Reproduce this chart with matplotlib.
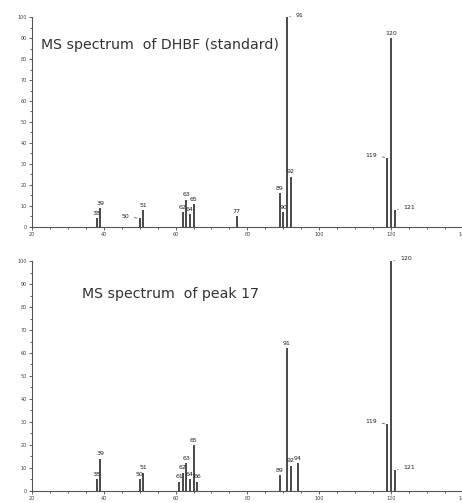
import matplotlib
matplotlib.use("Agg")
from matplotlib import pyplot as plt
from matplotlib.ticker import MultipleLocator

# MS spectrum of DHBF (standard)
std_mz = [38, 39, 50, 51, 62, 63, 64, 65, 77, 89, 90, 91, 92, 119, 120, 121]
std_int = [4, 9, 4, 8, 7, 13, 6, 11, 5, 16, 7, 100, 24, 33, 90, 8]

# MS spectrum of peak 17
p17_mz = [38, 39, 50, 51, 61, 62, 63, 64, 65, 66, 89, 91, 92, 94, 119, 120, 121]
p17_int = [5, 14, 5, 8, 4, 8, 12, 5, 20, 4, 7, 62, 11, 12, 29, 100, 9]

# labels pushed sideways with a small leader line (dx in data units)
std_side = {50: -3, 91: 2.5, 119: -3, 121: 2.5}
p17_side = {119: -3, 120: 2.5, 121: 2.5}

col = "#3a3a3a"


def draw(ax, mz, inten, side, title, tx, ty):
    ax.vlines(mz, 0, inten, color=col, lw=1.3)
    for m, v in zip(mz, inten):
        if m in side:
            dx = side[m]
            ax.annotate(str(m), xy=(m, v), xytext=(m + dx, v + 1),
                        fontsize=4.5, color="#222222",
                        ha="right" if dx < 0 else "left", va="center",
                        arrowprops=dict(arrowstyle="-", color=col, lw=0.5))
        else:
            ax.text(m, v + 1, str(m), fontsize=4.5, color="#222222",
                    ha="center", va="bottom")
    ax.text(tx, ty, title, fontsize=10.2, color="#333333")
    ax.set_xlim(20, 140)
    ax.set_ylim(0, 100)
    ax.xaxis.set_major_locator(MultipleLocator(20))
    ax.xaxis.set_minor_locator(MultipleLocator(5))
    ax.yaxis.set_major_locator(MultipleLocator(10))
    ax.yaxis.set_minor_locator(MultipleLocator(5))
    ax.tick_params(which="both", labelsize=3.5, colors="#444444",
                   direction="out", width=0.6, pad=1)
    ax.tick_params(which="major", length=2.5)
    ax.tick_params(which="minor", length=1.5)
    for s in ["top", "right"]:
        ax.spines[s].set_visible(False)
    for s in ["left", "bottom"]:
        ax.spines[s].set_color("#555555")
        ax.spines[s].set_linewidth(0.8)


fig = plt.figure(figsize=(4.62, 5.03), dpi=100)
ax1 = fig.add_axes([0.069, 0.549, 0.933, 0.417])
ax2 = fig.add_axes([0.069, 0.024, 0.933, 0.457])

draw(ax1, std_mz, std_int, std_side, "MS spectrum  of DHBF (standard)", 22.5, 85)
draw(ax2, p17_mz, p17_int, p17_side, "MS spectrum  of peak 17", 34, 84)

fig.savefig("out.png", dpi=100)
